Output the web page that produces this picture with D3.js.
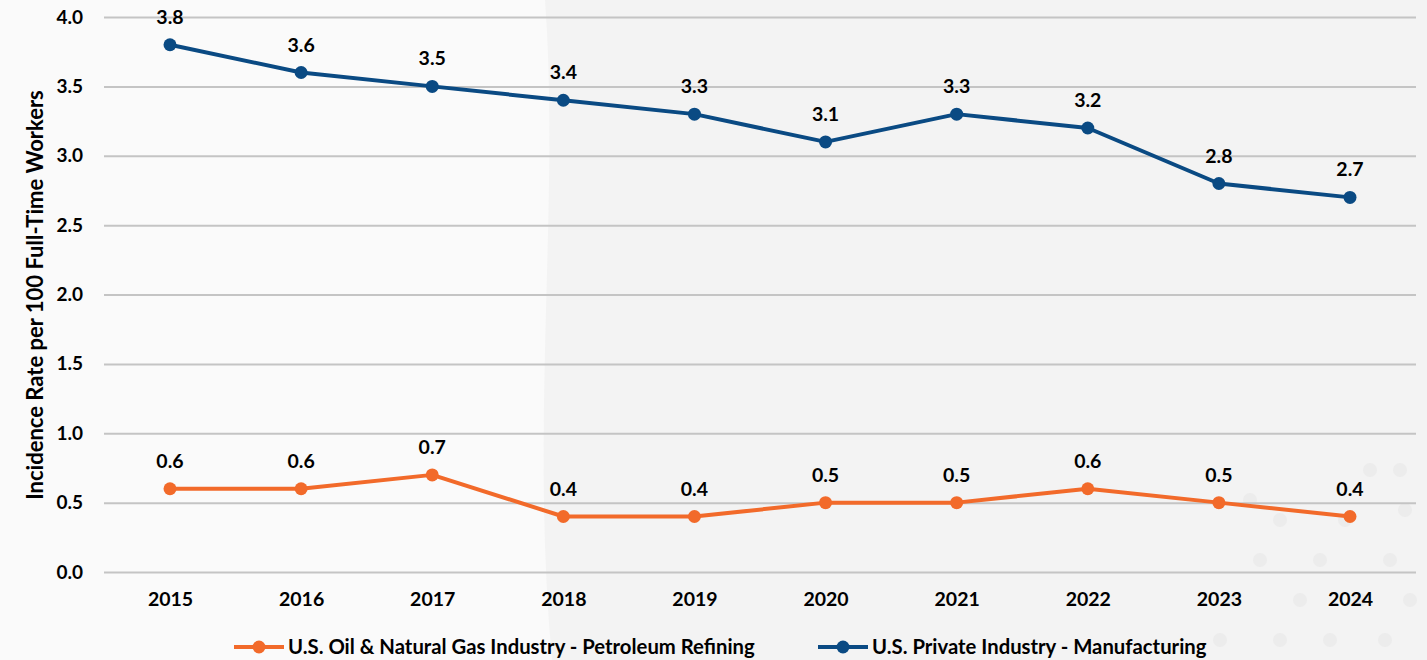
<!DOCTYPE html>
<html><head><meta charset="utf-8">
<script src="https://cdn.jsdelivr.net/npm/d3@7"></script>
<style>html,body{margin:0;padding:0;background:#fafafa;}svg{display:block;}</style>
</head><body>
<svg id="c" width="1427" height="660"></svg>
<script>
const years = ["2015","2016","2017","2018","2019","2020","2021","2022","2023","2024"];
const refining = [0.6,0.6,0.7,0.4,0.4,0.5,0.5,0.6,0.5,0.4];
const manufacturing = [3.8,3.6,3.5,3.4,3.3,3.1,3.3,3.2,2.8,2.7];
const yTicks = [0,0.5,1.0,1.5,2.0,2.5,3.0,3.5,4.0];
const seriesNames = ["U.S. Oil & Natural Gas Industry - Petroleum Refining","U.S. Private Industry - Manufacturing"];
const colors = ["#f26a2a","#0a4a83"];

(function(){
const svg = d3.select("#c");
const W=1427,H=660;
const font = "Lato, 'Open Sans', sans-serif";
svg.append("rect").attr("width",W).attr("height",H).attr("fill","#fafafa");
svg.append("path").attr("d","M545,0 C560,200 530,420 552,660 L1427,660 L1427,0 Z").attr("fill","#f3f3f3");
const dots=[[1370,470],[1405,510],[1345,520],[1390,560],[1360,600],[1410,600],[1300,600],[1330,640],[1385,640],[1260,560],[1280,520],[1230,600],[1220,640],[1320,560],[1280,640],[1400,470],[1250,500]];
svg.selectAll("circle.dec").data(dots).enter().append("circle").attr("class","dec")
  .attr("cx",d=>d[0]).attr("cy",d=>d[1]).attr("r",7).attr("fill","#ececec");

const pl=104,pr=1416,pt=17,pb=572;
const x = d3.scalePoint().domain(years).range([170,1350]);
const y = d3.scaleLinear().domain([0,4]).range([pb,pt]);

const yAxis = d3.axisLeft(y).tickValues(yTicks).tickFormat(d3.format(".1f")).tickSize(-(pr-pl)).tickPadding(21);
const gy = svg.append("g").attr("transform",`translate(${pl},0)`).call(yAxis);
gy.select(".domain").remove();
gy.selectAll(".tick line").attr("stroke","#c4c4c4").attr("stroke-width",2);
gy.selectAll(".tick text").attr("font-family",font).attr("font-weight","bold").attr("font-size",19).attr("fill","#000");

const xAxis = d3.axisBottom(x).tickSize(0).tickPadding(20);
const gx = svg.append("g").attr("transform",`translate(0,${pb})`).call(xAxis);
gx.select(".domain").remove();
gx.selectAll(".tick text").attr("font-family",font).attr("font-weight","bold").attr("font-size",19.5).attr("fill","#000");

svg.append("text").attr("transform","translate(43,295) rotate(-90)").attr("text-anchor","middle")
  .attr("font-family",font).attr("font-weight","bold").attr("font-size",22).attr("fill","#000")
  .text("Incidence Rate per 100 Full-Time Workers");

const series=[refining,manufacturing];
const line = d3.line().x((d,i)=>x(years[i])).y(d=>y(d));
series.forEach((s,k)=>{
  svg.append("path").datum(s).attr("d",line).attr("fill","none").attr("stroke",colors[k]).attr("stroke-width",4).attr("stroke-linejoin","round");
  svg.selectAll("circle.p"+k).data(s).enter().append("circle").attr("class","p"+k)
    .attr("cx",(d,i)=>x(years[i])).attr("cy",d=>y(d)).attr("r",6.5).attr("fill",colors[k]);
  svg.selectAll("text.l"+k).data(s).enter().append("text").attr("class","l"+k)
    .attr("x",(d,i)=>x(years[i])).attr("y",d=>y(d)-21).attr("text-anchor","middle")
    .attr("font-family",font).attr("font-weight","bold").attr("font-size",19.5).attr("fill","#000")
    .text(d=>d3.format(".1f")(d));
});

const legX=[234,818];
seriesNames.forEach((n,k)=>{
  const g=svg.append("g").attr("transform",`translate(${legX[k]},647)`);
  g.append("line").attr("x1",0).attr("x2",50).attr("y1",0).attr("y2",0).attr("stroke",colors[k]).attr("stroke-width",4);
  g.append("circle").attr("cx",25).attr("cy",0).attr("r",6.5).attr("fill",colors[k]);
  g.append("text").attr("x",54).attr("y",7).attr("font-family",font).attr("font-weight","bold").attr("font-size",20.3).attr("fill","#000").text(n);
});
})();
</script>
</body></html>
